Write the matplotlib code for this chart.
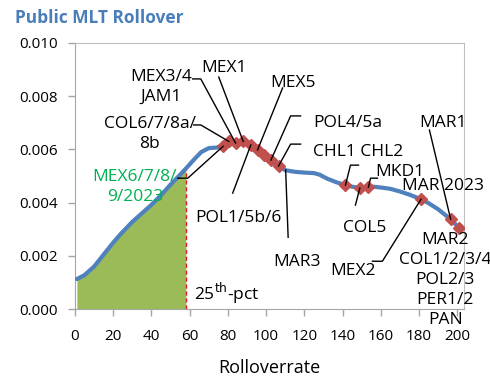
import numpy as np
import matplotlib
matplotlib.use('Agg')
import matplotlib.pyplot as plt

plt.rcParams['font.family'] = ['Open Sans', 'DejaVu Sans']

# Rollover curve (rollover rate vs density)
curve_x = [1, 5, 10, 15, 20, 24, 30, 35, 40, 45, 50, 55, 58, 62, 66, 70, 74,
           77.5, 80.5, 84, 88, 92, 95.5, 99, 102.5, 106.5, 110, 115, 120, 125,
           128, 132, 137, 141.5, 145, 149, 153.5, 156, 160, 165, 170, 175,
           181, 185, 190, 194, 196.5, 201]
curve_y = [0.00113, 0.00128, 0.00160, 0.00205, 0.00250, 0.00283, 0.00328,
           0.00360, 0.00392, 0.00428, 0.00468, 0.00505, 0.00528, 0.00560,
           0.00590, 0.00605, 0.00607, 0.00612, 0.00630, 0.00624, 0.00630,
           0.00617, 0.00598, 0.00578, 0.00560, 0.00538, 0.00522, 0.00516,
           0.00513, 0.00511, 0.00505, 0.00490, 0.00476, 0.00466, 0.00460,
           0.00455, 0.00458, 0.00460, 0.00457, 0.00452, 0.00442, 0.00430,
           0.00413, 0.00398, 0.00375, 0.00352, 0.00338, 0.00304]

# Individual bonds on the curve
bond_x = [77.5, 80.5, 84, 88, 92, 95.5, 99, 102.5, 106.5, 141.5, 149, 153.5,
          181, 196.5, 201]
bond_y = [0.00612, 0.00630, 0.00624, 0.00630, 0.00617, 0.00598, 0.00578,
          0.00560, 0.00538, 0.00466, 0.00455, 0.00458, 0.00413, 0.00338,
          0.00304]

pct25 = 58

xticks = list(range(0, 201, 20))
yticks = [0.000, 0.002, 0.004, 0.006, 0.008, 0.010]

BLUE = '#4F81BD'
RED = '#C0504D'
GREEN = '#9BBB59'
LABEL_FS = 12.5

fig = plt.figure(figsize=(4.9, 3.77), dpi=100)
ax = fig.add_axes([0.153, 0.180, 0.794, 0.706])

cx = np.array(curve_x)
cy = np.array(curve_y)
mask = cx <= pct25
ax.fill_between(cx[mask], 0, cy[mask], color=GREEN, lw=0, zorder=1)
ax.plot([pct25, pct25], [0, cy[mask][-1]], color='#E02020', lw=1,
        ls=(0, (3, 2)), zorder=2)
ax.plot(cx, cy, color=BLUE, lw=3, solid_capstyle='round', zorder=3)
ax.plot(bond_x, bond_y, 'D', color=RED, ms=6.5, mec=RED, zorder=4)

# labels: text, x, y, colour, leader points (None = no leader), bond index
labels = [
    ('MEX6/7/8/\n9/2023', 31.3, 0.00458, '#00B050', [(53.8, 0.00492), (59.0, 0.00492)], 0),
    ('COL6/7/8a/\n8b', 39.2, 0.00658, 'black', [(62.1, 0.00692), (65.8, 0.00692)], 1),
    ('MEX3/4\nJAM1', 44.9, 0.00835, 'black', [(61.6, 0.00865), (65.8, 0.00865)], 2),
    ('MEX1', 77.8, 0.00906, 'black', [(75.2, 0.00872)], 3),
    ('POL1/5b/6', 85.4, 0.00343, 'black', [(82.5, 0.00436)], 4),
    ('MEX5', 113.8, 0.00850, 'black', [(108.6, 0.00831)], 5),
    ('POL4/5a', 142.8, 0.00700, 'black', [(118, 0.00726), (112.8, 0.00726)], 7),
    ('CHL1 CHL2', 148.0, 0.00591, 'black', [(118, 0.00620), (112.8, 0.00620)], 8),
    ('MAR3', 115.9, 0.00178, 'black', [(111.5, 0.00270), (110.2, 0.00523)], None),
    ('', 0, 0, 'black', [(148.3, 0.00541), (144.1, 0.00541)], 9),
    ('COL5', 151.4, 0.00304, 'black', [(146.7, 0.00391)], 10),
    ('MKD1', 170.0, 0.00516, 'black', [(158.2, 0.00492), (154.6, 0.00492)], 11),
    ('MEX2', 145.4, 0.00144, 'black', [(155.6, 0.00180), (160.8, 0.00180)], 12),
    ('MAR 2023', 192.4, 0.00462, 'black', None, None),
    ('MAR1', 192.4, 0.00700, 'black', [(185.4, 0.00673)], 13),
    ('MAR2\nCOL1/2/3/4\nPOL2/3\nPER1/2\nPAN', 193.7, 0.00108, 'black', None, None),
]

for text, tx, ty, col, leader, idx in labels:
    if text:
        ax.text(tx, ty, text, ha='center', va='center', color=col,
                fontsize=LABEL_FS, linespacing=1.33, zorder=6, clip_on=False)
    if leader:
        pts = list(leader)
        if idx is not None:
            pts.append((bond_x[idx], bond_y[idx]))
        xs, ys = zip(*pts)
        ax.plot(xs, ys, color='black', lw=1, zorder=5)

ax.text(62.1, 0.0006, '25$^{\\mathrm{th}}$-pct', ha='left', va='center',
        fontsize=LABEL_FS, zorder=6)

ax.set_xlim(0, 203.5)
ax.set_ylim(0, 0.010)
ax.set_xticks(xticks)
ax.set_yticks(yticks)
ax.set_yticklabels([f'{v:.3f}' for v in yticks])
ax.tick_params(axis='both', labelsize=11, color='#A6A6A6', length=5, width=1)
ax.tick_params(axis='x', pad=9)
ax.tick_params(axis='y', pad=7.5)
for s in ax.spines.values():
    s.set_color('#BFBFBF')
ax.spines['left'].set_color('#A6A6A6')
ax.spines['bottom'].set_color('#A6A6A6')

ax.set_xlabel('Rolloverrate', fontsize=13, labelpad=11)

fig.text(0.031, 0.952, 'Public MLT Rollover', fontsize=12.5, fontweight='bold',
         color='#4A7EBB', ha='left', va='center')

fig.savefig('out.png', dpi=100)
